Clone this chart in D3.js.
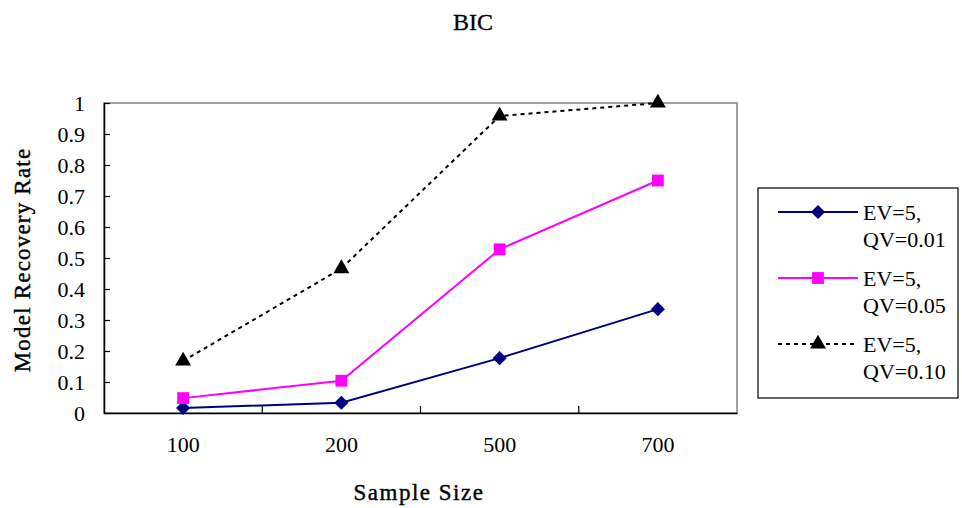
<!DOCTYPE html>
<html>
<head>
<meta charset="utf-8">
<script src="https://cdn.jsdelivr.net/npm/d3@7"></script>
<style>
body { margin: 0; background: #fff; }
text { font-family: "Liberation Serif", "DejaVu Serif", serif; fill: #000; }
</style>
</head>
<body>
<script>
var width = 962, height = 508;

var sampleSizes = ["100", "200", "500", "700"];
var qv001 = [0.016, 0.033, 0.177, 0.335];
var qv005 = [0.048, 0.104, 0.528, 0.75];
var qv010 = [0.168, 0.466, 0.958, 1.0];
var yTicks = [0, 0.1, 0.2, 0.3, 0.4, 0.5, 0.6, 0.7, 0.8, 0.9, 1];

var series = [
    {name1: "EV=5,", name2: "QV=0.01", values: qv001, color: "#000080", dash: null, symbol: d3.symbolSquare, rot: 45, size: 100},
    {name1: "EV=5,", name2: "QV=0.05", values: qv005, color: "#ff00ff", dash: null, symbol: d3.symbolSquare, rot: 0, size: 140},
    {name1: "EV=5,", name2: "QV=0.10", values: qv010, color: "#000000", dash: "4,4", symbol: d3.symbolTriangle, rot: 0, size: 110}
];

var plot = {left: 104, top: 103, right: 737, bottom: 413};

var svg = d3.select("body").append("svg").attr("width", width).attr("height", height);

var x = d3.scaleBand().domain(sampleSizes).range([plot.left, plot.right]);
var y = d3.scaleLinear().domain([0, 1]).range([plot.bottom, plot.top]);

// plot area frame (gray top/right)
svg.append("rect")
    .attr("x", plot.left).attr("y", plot.top)
    .attr("width", plot.right - plot.left).attr("height", plot.bottom - plot.top)
    .attr("fill", "none").attr("stroke", "#808080").attr("stroke-width", 1.5);

// y axis, ticks inside
var yAxis = svg.append("g").attr("transform", "translate(" + plot.left + ",0)")
    .call(d3.axisLeft(y).tickValues(yTicks).tickSizeInner(-6).tickSizeOuter(0).tickPadding(19)
        .tickFormat(function(d){ return d === 0 || d === 1 ? d3.format("d")(d) : d3.format(".1f")(d); }));
yAxis.attr("font-family", null);
yAxis.select(".domain").attr("stroke", "#000").attr("stroke-width", 1.5);
yAxis.selectAll(".tick line").attr("stroke", "#000").attr("stroke-width", 1.2);
yAxis.selectAll("text").attr("font-size", 22).attr("fill", "#000").attr("dy", "0.36em");

// x axis, ticks at band boundaries pointing up
var xAxis = svg.append("g").attr("transform", "translate(0," + plot.bottom + ")")
    .call(d3.axisBottom(x).tickSize(0).tickPadding(23));
xAxis.attr("font-family", null);
xAxis.select(".domain").attr("stroke", "#000").attr("stroke-width", 1.5);
xAxis.selectAll("text").attr("font-size", 22).attr("fill", "#000");
xAxis.selectAll(".bound")
    .data(sampleSizes.slice(1))
    .enter().append("line")
        .attr("class", "bound")
        .attr("x1", function(d){ return x(d); })
        .attr("x2", function(d){ return x(d); })
        .attr("y1", 0).attr("y2", -7)
        .attr("stroke", "#000").attr("stroke-width", 1.2);

var line = d3.line()
    .x(function(d, i){ return x(sampleSizes[i]) + x.bandwidth() / 2; })
    .y(function(d){ return y(d); });

series.forEach(function(s){
    svg.append("path")
        .datum(s.values)
        .attr("d", line)
        .attr("fill", "none")
        .attr("stroke", s.color)
        .attr("stroke-width", 2)
        .attr("stroke-dasharray", s.dash);
    svg.append("g").selectAll("path")
        .data(s.values)
        .enter().append("path")
            .attr("transform", function(d, i){ return "translate(" + (x(sampleSizes[i]) + x.bandwidth() / 2) + "," + y(d) + ") rotate(" + s.rot + ")"; })
            .attr("d", d3.symbol().type(s.symbol).size(s.size))
            .attr("fill", s.color);
});

// titles
svg.append("text").attr("x", 473).attr("y", 30).attr("text-anchor", "middle")
    .attr("font-size", 24).attr("stroke", "#000").attr("stroke-width", 0.3).text("BIC");
svg.append("text").attr("x", 419).attr("y", 500).attr("text-anchor", "middle")
    .attr("font-size", 23).attr("letter-spacing", 1.5).attr("stroke", "#000").attr("stroke-width", 0.4).text("Sample Size");
svg.append("text").attr("transform", "translate(30,260) rotate(-90)").attr("text-anchor", "middle")
    .attr("font-size", 23).attr("letter-spacing", 1.2).attr("stroke", "#000").attr("stroke-width", 0.4).text("Model Recovery Rate");

// legend
var legend = svg.append("g");
legend.append("rect")
    .attr("x", 758).attr("y", 188).attr("width", 200).attr("height", 210)
    .attr("fill", "#fff").attr("stroke", "#000").attr("stroke-width", 1.2);

var items = legend.selectAll(".item")
    .data(series)
    .enter().append("g")
        .attr("class", "item")
        .attr("transform", function(d, i){ return "translate(0," + (212 + i * 66) + ")"; });
items.append("line")
    .attr("x1", 778).attr("x2", 858).attr("y1", 0).attr("y2", 0)
    .attr("stroke", function(d){ return d.color; })
    .attr("stroke-width", 2)
    .attr("stroke-dasharray", function(d){ return d.dash; });
items.append("path")
    .attr("transform", function(d){ return "translate(818,0) rotate(" + d.rot + ")"; })
    .attr("d", function(d){ return d3.symbol().type(d.symbol).size(d.size)(); })
    .attr("fill", function(d){ return d.color; });
items.append("text").attr("x", 863).attr("y", 8).attr("font-size", 22).text(function(d){ return d.name1; });
items.append("text").attr("x", 863).attr("y", 35).attr("font-size", 22).text(function(d){ return d.name2; });
</script>
</body>
</html>
